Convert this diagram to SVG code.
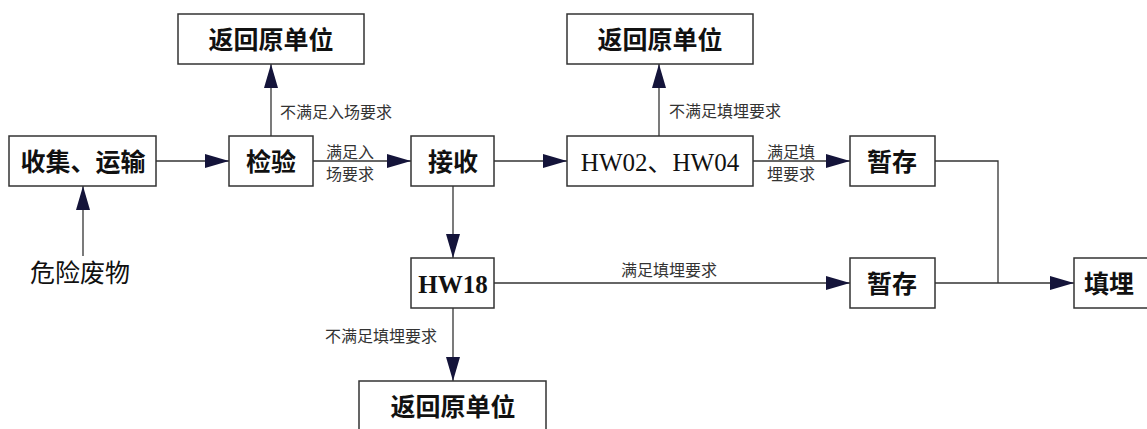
<svg xmlns="http://www.w3.org/2000/svg" width="1147" height="429" viewBox="0 0 1147 429">
<defs>
<marker id="arr" markerUnits="userSpaceOnUse" markerWidth="24" markerHeight="14" refX="24" refY="7" orient="auto">
<path d="M0,0 L24,7 L0,14 z" fill="#14143a"/>
</marker>
<style>
.box{fill:#fff;stroke:#333;stroke-width:1.5}
.nt{font-family:"Liberation Serif","Noto Sans CJK SC",serif;font-size:25px;font-weight:bold;fill:#111;text-anchor:middle;dominant-baseline:central}
.nh{font-family:"Liberation Serif","Noto Sans CJK SC",serif;font-size:25px;fill:#111;text-anchor:middle;dominant-baseline:central}
.lb{font-family:"Noto Sans CJK SC",sans-serif;font-size:16px;fill:#333;dominant-baseline:central}
.ln{fill:none;stroke:#333;stroke-width:1.3}
</style>
</defs>
<rect width="1147" height="429" fill="#fff"/>
<g id="connectors">
<line class="ln" x1="156" y1="161" x2="229" y2="161" marker-end="url(#arr)"/>
<line class="ln" x1="83" y1="256" x2="83" y2="186" marker-end="url(#arr)"/>
<line class="ln" x1="271" y1="136" x2="271" y2="64" marker-end="url(#arr)"/>
<line class="ln" x1="313" y1="161" x2="411" y2="161" marker-end="url(#arr)"/>
<line class="ln" x1="494" y1="161" x2="567" y2="161" marker-end="url(#arr)"/>
<line class="ln" x1="659" y1="136" x2="659" y2="64" marker-end="url(#arr)"/>
<line class="ln" x1="753" y1="161" x2="850" y2="161" marker-end="url(#arr)"/>
<polyline class="ln" points="935,161 998,161 998,283"/>
<line class="ln" x1="935" y1="283" x2="1074" y2="283" marker-end="url(#arr)"/>
<line class="ln" x1="453" y1="186" x2="453" y2="258" marker-end="url(#arr)"/>
<line class="ln" x1="494" y1="283" x2="850" y2="283" marker-end="url(#arr)"/>
<line class="ln" x1="453" y1="308" x2="453" y2="381" marker-end="url(#arr)"/>
<text class="lb" x="280" y="111">不满足入场要求</text>
<text class="lb" x="326" y="151">满足入</text>
<text class="lb" x="326" y="173">场要求</text>
<text class="lb" x="669" y="110">不满足填埋要求</text>
<text class="lb" x="767" y="151">满足填</text>
<text class="lb" x="767" y="173">埋要求</text>
<text class="lb" x="621" y="269">满足填埋要求</text>
<text class="lb" x="325" y="335">不满足填埋要求</text>
</g>
<g id="n_return1"><rect class="box" x="178" y="14" width="186" height="50"/><text class="nt" x="271" y="40">返回原单位</text></g>
<g id="n_collect"><rect class="box" x="9" y="136" width="147" height="50"/><text class="nt" x="83" y="162">收集、运输</text></g>
<g id="n_waste"><text class="nh" x="80" y="273">危险废物</text></g>
<g id="n_inspect"><rect class="box" x="229" y="136" width="84" height="50"/><text class="nt" x="271" y="162">检验</text></g>
<g id="n_receive"><rect class="box" x="411" y="136" width="83" height="50"/><text class="nt" x="453" y="162">接收</text></g>
<g id="n_hw0204"><rect class="box" x="567" y="136" width="186" height="50"/><text class="nh" x="660" y="162">HW02、HW04</text></g>
<g id="n_return2"><rect class="box" x="567" y="14" width="186" height="50"/><text class="nt" x="660" y="40">返回原单位</text></g>
<g id="n_store1"><rect class="box" x="850" y="136" width="85" height="50"/><text class="nt" x="892" y="162">暂存</text></g>
<g id="n_hw18"><rect class="box" x="411" y="258" width="83" height="50"/><text class="nh" x="453" y="284" style="font-weight:bold">HW18</text></g>
<g id="n_store2"><rect class="box" x="850" y="258" width="85" height="50"/><text class="nt" x="892" y="284">暂存</text></g>
<g id="n_landfill"><rect class="box" x="1074" y="258" width="80" height="50"/><text class="nt" x="1109" y="284">填埋</text></g>
<g id="n_return3"><rect class="box" x="359" y="381" width="187" height="55"/><text class="nt" x="453" y="407">返回原单位</text></g>
</svg>
